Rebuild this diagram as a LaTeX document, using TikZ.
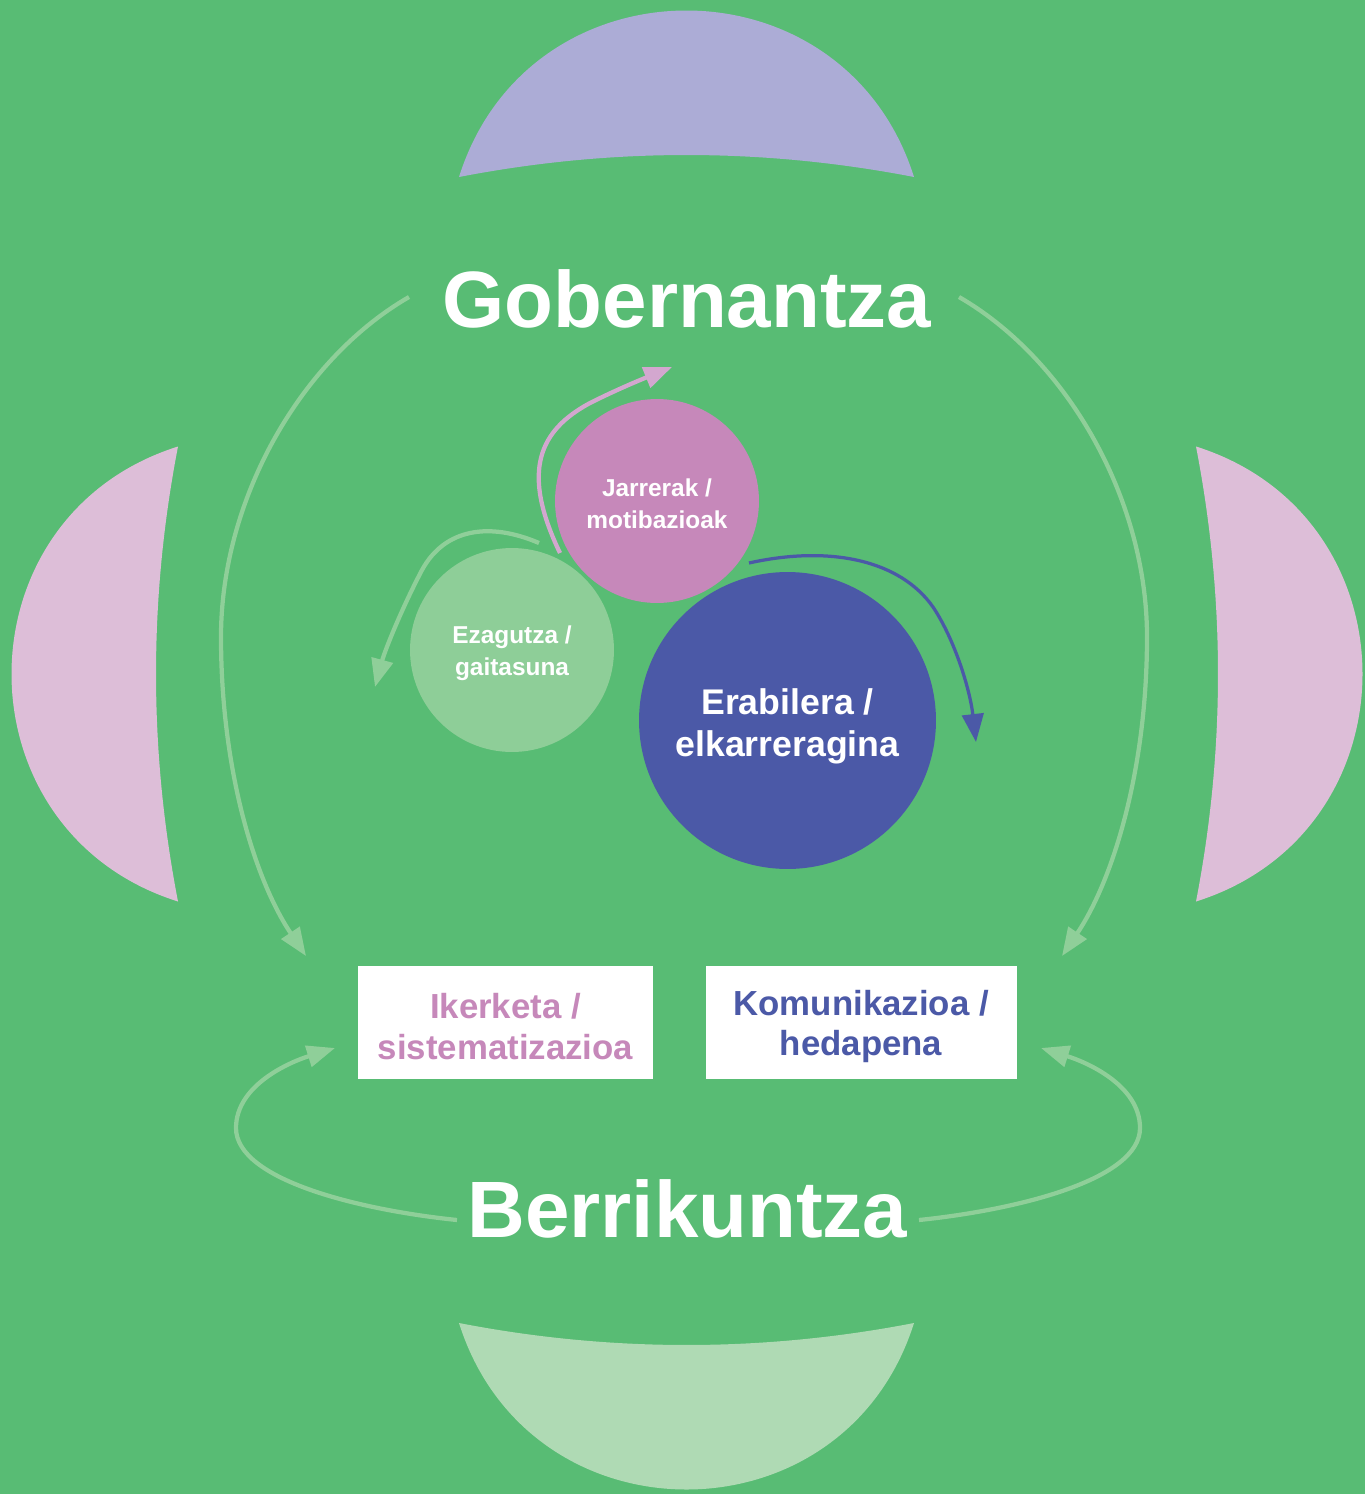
\documentclass[tikz,border=0pt]{standalone}
\usepackage{fontspec}
\setmainfont{Liberation Sans}
\usepackage{tikz}
\usetikzlibrary{arrows.meta,positioning}
\definecolor{bg}{HTML}{58BC74}
\definecolor{lavender}{HTML}{ACACD6}
\definecolor{lenspink}{HTML}{DDBED8}
\definecolor{lensgreen}{HTML}{AFDAB4}
\definecolor{paleflow}{HTML}{8FCF99}
\definecolor{cpink}{HTML}{C688BA}
\definecolor{cgreen}{HTML}{8ECE98}
\definecolor{cblue}{HTML}{4B59A7}
\definecolor{pinkflow}{HTML}{D3A7CF}
\tikzstyle{every node}=[font=\bfseries]
\tikzstyle{title}=[anchor=base,
                   inner sep=0pt,
                   text=white,
                   font=\fontsize{45.5}{54}\selectfont\bfseries]
\tikzstyle{bubble}=[circle,
                    inner sep=0pt,
                    align=center,
                    text=white,
                    font=\fontsize{13.9}{18.4}\selectfont\bfseries,
                    minimum size=4.08cm]
\tikzstyle{tag}=[rectangle,
                 fill=white,
                 inner sep=0pt,
                 align=center,
                 minimum height=2.26cm,
                 font=\fontsize{19.8}{23}\selectfont\bfseries]
\tikzstyle{flow}=[line width=0.085cm,paleflow]
\newcommand{\drawlens}[4]{%
  \fill[#4,shift={(#1,#2)},rotate=#3] (-227.5,0)
    .. controls (-157.5,-222) and (157.5,-222) .. (227.5,0)
    .. controls (76,-29.3) and (-76,-29.3) .. cycle;}
\newcommand{\lift}[1]{\rule{0pt}{#1}}

\begin{document}
\begin{tikzpicture}[x=0.02cm,y=-0.02cm,>={Triangle[length=0.56cm,width=0.43cm]}]
\useasboundingbox (0,0) rectangle (1365,1494);
\fill[bg] (0,0) rectangle (1365,1494);

\drawlens{686.5}{177}{0}{lavender}
\drawlens{178}{674}{90}{lenspink}
\drawlens{1196}{674}{-90}{lenspink}
\drawlens{686.5}{1323}{180}{lensgreen}

\node (gob) [title] at (687,327) {Gobernantza};
\node (ber) [title] at (687.5,1237) {Berrikuntza};

\node (jar) [bubble,fill=cpink] at (657,501) {\lift{13pt}Jarrerak /\\motibazioak};
\node (eza) [bubble,fill=cgreen] at (512,650) {\lift{14pt}Ezagutza /\\gaitasuna};
\node (era) [bubble,fill=cblue,minimum size=5.94cm,
             font=\fontsize{20.3}{24.2}\selectfont\bfseries] at (787.5,720.5) {\lift{21.5pt}Erabilera /\\elkarreragina};

\node (ike) [tag,text=cpink,minimum width=5.9cm] at (505.5,1022.5) {\lift{19pt}Ikerketa /\\sistematizazioa};
\node (kom) [tag,text=cblue,minimum width=6.22cm,right=1.04cm of ike] {\lift{19pt}Komunikazioa /\\hedapena};

\coordinate (gob-l) at (409,297);
\coordinate (gob-r) at (959,297);
\coordinate (ike-in) at (306,956);
\coordinate (kom-in) at (1062,956);
\coordinate (ber-l) at (457,1220);
\coordinate (ber-r) at (919,1220);
\coordinate (ike-up) at (335,1048);
\coordinate (kom-up) at (1041,1048);
\coordinate (jar-out) at (560,553);
\coordinate (jar-top) at (672,367);
\coordinate (eza-out) at (539,543);
\coordinate (eza-end) at (375,687);
\coordinate (era-out) at (749,563);
\coordinate (era-end) at (976,742);

\draw[flow,->] (gob-l) .. controls (300,360) and (221,500) .. (221,637)
  .. controls (221,770) and (255,880) .. (ike-in);
\draw[flow,->] (gob-r) .. controls (1068,360) and (1147,500) .. (1147,637)
  .. controls (1147,770) and (1113,880) .. (kom-in);
\draw[flow,->] (ber-l) .. controls (360,1210) and (236,1180) .. (236,1128)
  .. controls (236,1085) and (290,1062) .. (ike-up);
\draw[flow,->] (ber-r) .. controls (1016,1210) and (1140,1180) .. (1140,1128)
  .. controls (1140,1085) and (1086,1062) .. (kom-up);

\draw[line width=0.085cm,pinkflow,->] (jar-out) .. controls (520,470) and (540,430) .. (590,403)
  .. controls (620,388) and (645,378) .. (jar-top);
\draw[flow,->] (eza-out) .. controls (490,522) and (445,528) .. (422,570)
  .. controls (402,608) and (385,650) .. (eza-end);
\draw[line width=0.065cm,cblue,->] (era-out) .. controls (830,545) and (900,560) .. (933,607)
  .. controls (955,640) and (970,690) .. (era-end);
\end{tikzpicture}
\end{document}
